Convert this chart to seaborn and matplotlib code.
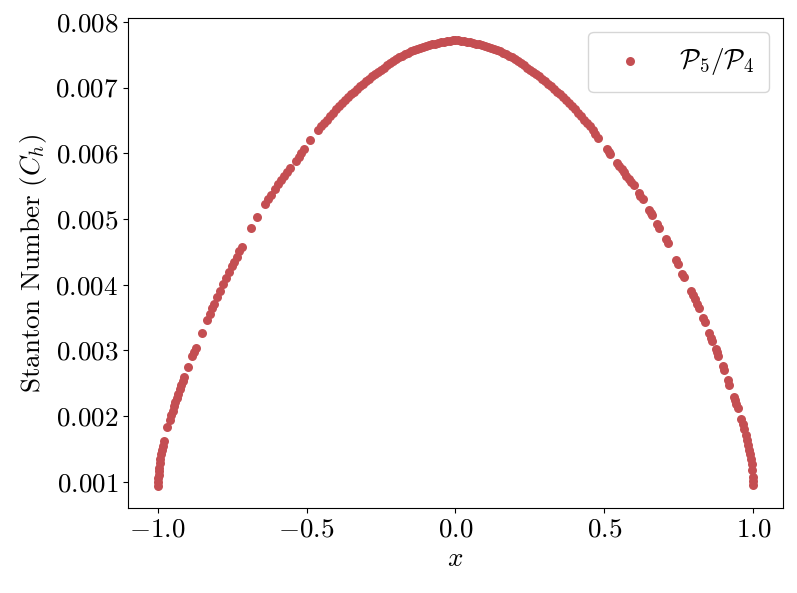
import numpy as np
import pandas as pd
import seaborn as sns
import matplotlib.pyplot as plt

# points (x, Stanton number)
x_left = [
    -0.9995, -0.999, -0.998, -0.997, -0.996, -0.995, -0.993, -0.991, -0.989,
    -0.986, -0.983, -0.979, -0.967, -0.960, -0.955, -0.950, -0.945, -0.940,
    -0.935, -0.930, -0.925, -0.920, -0.915, -0.910, -0.898, -0.884, -0.878,
    -0.872, -0.852, -0.833, -0.825, -0.817, -0.810, -0.800, -0.790, -0.780,
    -0.770, -0.760, -0.750, -0.743, -0.735, -0.726, -0.718, -0.686, -0.665,
    -0.638, -0.628, -0.618, -0.606, -0.596, -0.585, -0.575, -0.565, -0.554,
    -0.537, -0.527, -0.518, -0.510, -0.487,
]
ch_left = [
    0.00094, 0.00100, 0.00106, 0.00111, 0.00116, 0.00121, 0.00128, 0.00135, 0.00142,
    0.00149, 0.00155, 0.00162, 0.00184, 0.00194, 0.00201, 0.00208, 0.00215, 0.00222,
    0.00228, 0.00234, 0.00241, 0.00247, 0.00253, 0.00260, 0.00275, 0.00291, 0.00298,
    0.00304, 0.00326, 0.00346, 0.00355, 0.00364, 0.00371, 0.00382, 0.00391, 0.00401,
    0.00410, 0.00419, 0.00428, 0.00435, 0.00442, 0.00451, 0.00458, 0.00486, 0.00503,
    0.00523, 0.00530, 0.00537, 0.00546, 0.00553, 0.00560, 0.00566, 0.00572, 0.00578,
    0.00589, 0.00595, 0.00601, 0.00606, 0.00620,
]

x_top = [
    -0.46, -0.45, -0.44, -0.43, -0.42, -0.41, -0.40, -0.39, -0.38, -0.37,
    -0.36, -0.35, -0.34, -0.33, -0.32, -0.31, -0.30, -0.29, -0.28, -0.27,
    -0.26, -0.25, -0.24, -0.23, -0.22, -0.21, -0.20, -0.19, -0.18, -0.17,
    -0.16, -0.15, -0.14, -0.13, -0.12, -0.11, -0.10, -0.09, -0.08, -0.07,
    -0.06, -0.05, -0.04, -0.03, -0.02, -0.01, 0.00, 0.01, 0.02, 0.03,
    0.04, 0.05, 0.06, 0.07, 0.08, 0.09, 0.10, 0.11, 0.12, 0.13,
    0.14, 0.15, 0.16, 0.17, 0.18, 0.19, 0.20, 0.21, 0.22, 0.23,
    0.24, 0.25, 0.26, 0.27, 0.28, 0.29, 0.30, 0.31, 0.32, 0.33,
    0.34, 0.35, 0.36, 0.37, 0.38, 0.39, 0.40, 0.41, 0.42, 0.43,
    0.44, 0.45, 0.46, 0.47, 0.48,
]
ch_top = [
    0.00635, 0.00641, 0.00646, 0.00651, 0.00657, 0.00662, 0.00667, 0.00672, 0.00676, 0.00681,
    0.00685, 0.00690, 0.00694, 0.00698, 0.00702, 0.00706, 0.00710, 0.00713, 0.00717, 0.00720,
    0.00724, 0.00727, 0.00730, 0.00734, 0.00737, 0.00741, 0.00744, 0.00746, 0.00748, 0.00751,
    0.00753, 0.00755, 0.00757, 0.00758, 0.00760, 0.00762, 0.00764, 0.00765, 0.00766, 0.00767,
    0.00768, 0.00769, 0.00770, 0.00771, 0.00771, 0.00772, 0.00772, 0.00772, 0.00771, 0.00771,
    0.00770, 0.00769, 0.00768, 0.00767, 0.00766, 0.00765, 0.00764, 0.00762, 0.00760, 0.00758,
    0.00757, 0.00755, 0.00753, 0.00751, 0.00748, 0.00746, 0.00744, 0.00741, 0.00737, 0.00734,
    0.00730, 0.00727, 0.00724, 0.00720, 0.00717, 0.00713, 0.00710, 0.00706, 0.00702, 0.00698,
    0.00694, 0.00690, 0.00685, 0.00681, 0.00676, 0.00672, 0.00667, 0.00662, 0.00657, 0.00651,
    0.00646, 0.00641, 0.00635, 0.00629, 0.00624,
]

x_right = [
    0.509, 0.515, 0.520, 0.543, 0.550, 0.558, 0.566, 0.574, 0.582,
    0.590, 0.598, 0.615, 0.621, 0.628, 0.650, 0.656, 0.660, 0.678,
    0.684, 0.706, 0.712, 0.740, 0.746, 0.762, 0.768, 0.790, 0.797,
    0.803, 0.810, 0.816, 0.830, 0.836, 0.852, 0.858, 0.862, 0.874,
    0.878, 0.883, 0.897, 0.902, 0.914, 0.919, 0.934, 0.938, 0.942,
    0.947, 0.959, 0.964, 0.970, 0.974, 0.978, 0.982, 0.986, 0.989,
    0.992, 0.994, 0.996, 0.998, 0.999, 0.9995,
]
ch_right = [
    0.00606, 0.00602, 0.00599, 0.00585, 0.00581, 0.00576, 0.00571, 0.00566, 0.00561,
    0.00556, 0.00551, 0.00539, 0.00535, 0.00530, 0.00514, 0.00509, 0.00506, 0.00492,
    0.00487, 0.00469, 0.00464, 0.00437, 0.00432, 0.00417, 0.00411, 0.00391, 0.00385,
    0.00379, 0.00371, 0.00365, 0.00350, 0.00343, 0.00326, 0.00319, 0.00315, 0.00302,
    0.00297, 0.00292, 0.00276, 0.00270, 0.00255, 0.00248, 0.00229, 0.00224, 0.00218,
    0.00212, 0.00195, 0.00188, 0.00180, 0.00172, 0.00164, 0.00156, 0.00148, 0.00142,
    0.00134, 0.00127, 0.00118, 0.00108, 0.00101, 0.00095,
]

df = pd.DataFrame({
    "x": x_left + x_top + x_right,
    "ch": ch_left + ch_top + ch_right,
})

plt.rcParams["font.family"] = "serif"
plt.rcParams["font.serif"] = ["cmr10"]
plt.rcParams["mathtext.fontset"] = "cm"
plt.rcParams["axes.formatter.use_mathtext"] = True
plt.rcParams["font.size"] = 19.5

fig, ax = plt.subplots(figsize=(7.97, 5.93), dpi=100)
fig.subplots_adjust(left=0.1606, right=0.9824, top=0.9696, bottom=0.1433)

sns.scatterplot(
    data=df,
    x="x",
    y="ch",
    color="#C44E52",
    s=42,
    linewidth=0,
    label=r"$\mathcal{P}_5/\mathcal{P}_4$",
    ax=ax
)

ax.set_xlabel(r"$x$")
ax.set_ylabel(r"Stanton Number ($C_h$)")
ax.legend(loc="upper right", borderpad=0.55)

fig.savefig("out.png", dpi=100)
